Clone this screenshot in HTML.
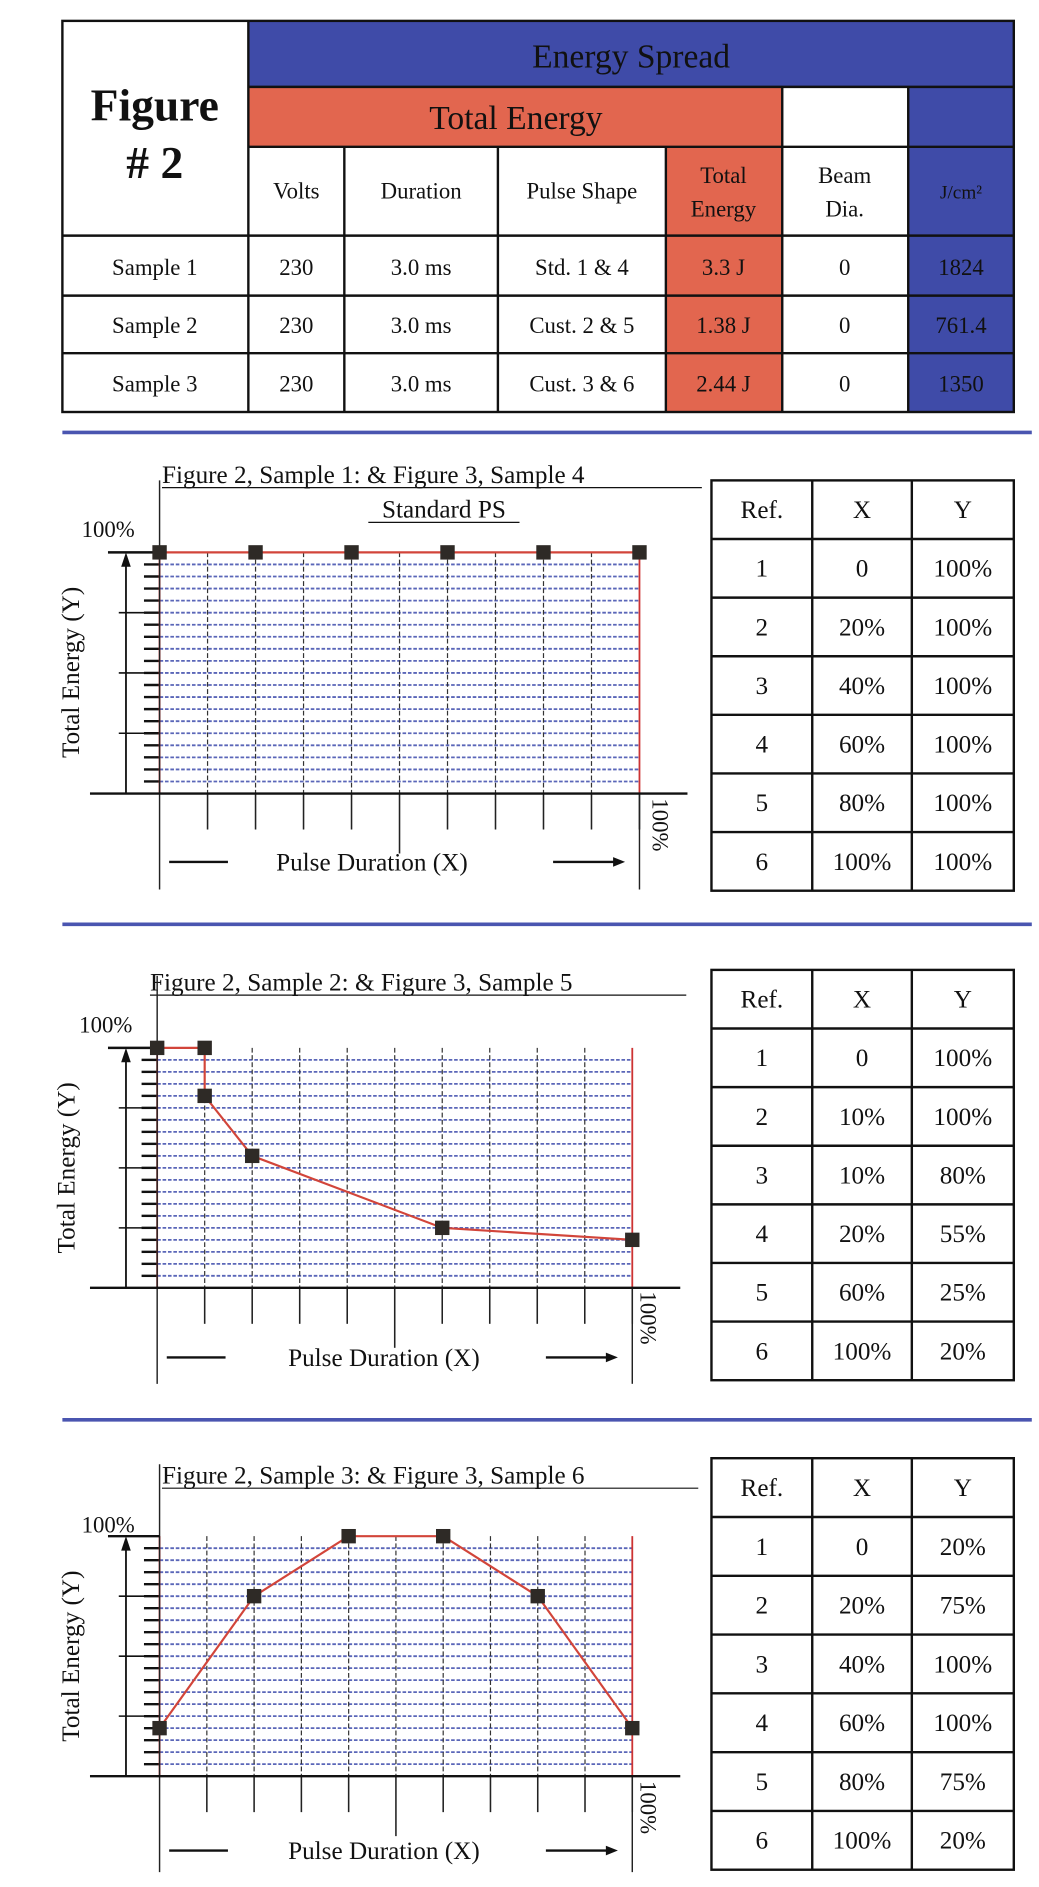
<!DOCTYPE html>
<html><head><meta charset="utf-8"><style>
html,body{margin:0;padding:0;background:#fff}
svg{display:block}
text{font-family:"Liberation Serif",serif;fill:#111}
</style></head><body>
<svg id="s" width="1039" height="1887" viewBox="0 0 866 1572" xmlns="http://www.w3.org/2000/svg">
<rect x="207" y="17" width="638" height="55" fill="#3f4ba8"/>
<rect x="207" y="72" width="445" height="50" fill="#e2664f"/>
<rect x="757" y="72" width="88" height="271" fill="#3f4ba8"/>
<rect x="555" y="122" width="97" height="221" fill="#e2664f"/>
<g stroke="#111" stroke-width="2" fill="none">
<rect x="52" y="17" width="793" height="326"/>
<line x1="207" y1="17" x2="207" y2="343"/>
<line x1="207" y1="72" x2="845" y2="72"/>
<line x1="207" y1="122" x2="845" y2="122"/>
<line x1="652" y1="72" x2="652" y2="343"/>
<line x1="757" y1="72" x2="757" y2="343"/>
<line x1="287" y1="122" x2="287" y2="343"/>
<line x1="415" y1="122" x2="415" y2="343"/>
<line x1="555" y1="122" x2="555" y2="343"/>
<line x1="52" y1="196" x2="845" y2="196"/>
<line x1="52" y1="246" x2="845" y2="246"/>
<line x1="52" y1="294" x2="845" y2="294"/>
</g>
<text x="129" y="100" font-size="38" font-weight="bold" text-anchor="middle">Figure</text>
<text x="129" y="148" font-size="38" font-weight="bold" text-anchor="middle"># 2</text>
<text x="526" y="56" font-size="28" text-anchor="middle">Energy Spread</text>
<text x="430" y="107" font-size="28" text-anchor="middle">Total Energy</text>
<g font-size="19" text-anchor="middle">
<text x="247" y="165">Volts</text><text x="351" y="165">Duration</text><text x="485" y="165">Pulse Shape</text>
<text x="603" y="152">Total</text><text x="603" y="180">Energy</text>
<text x="704" y="152">Beam</text><text x="704" y="180">Dia.</text>
<text x="801" y="165" font-size="16">J/cm²</text>
<text x="129" y="229">Sample 1</text><text x="247" y="229">230</text><text x="351" y="229">3.0 ms</text><text x="485" y="229">Std. 1 &amp; 4</text><text x="603" y="229">3.3 J</text><text x="704" y="229">0</text><text x="801" y="229">1824</text>
<text x="129" y="277">Sample 2</text><text x="247" y="277">230</text><text x="351" y="277">3.0 ms</text><text x="485" y="277">Cust. 2 &amp; 5</text><text x="603" y="277">1.38 J</text><text x="704" y="277">0</text><text x="801" y="277">761.4</text>
<text x="129" y="326">Sample 3</text><text x="247" y="326">230</text><text x="351" y="326">3.0 ms</text><text x="485" y="326">Cust. 3 &amp; 6</text><text x="603" y="326">2.44 J</text><text x="704" y="326">0</text><text x="801" y="326">1350</text>
</g>
<g stroke="#4a55b0" stroke-width="3">
<line x1="52" y1="360" x2="860" y2="360"/>
<line x1="52" y1="770" x2="860" y2="770"/>
<line x1="52" y1="1183" x2="860" y2="1183"/>
</g>
<g font-size="21">
<text x="135" y="402">Figure 2, Sample 1: &amp; Figure 3, Sample 4</text>
<line x1="135" y1="406" x2="585" y2="406" stroke="#111"/>
<text x="370" y="431" text-anchor="middle">Standard PS</text>
<line x1="307" y1="435" x2="433" y2="435" stroke="#111"/>
<text x="125" y="825">Figure 2, Sample 2: &amp; Figure 3, Sample 5</text>
<line x1="125" y1="829" x2="572" y2="829" stroke="#111"/>
<text x="135" y="1236">Figure 2, Sample 3: &amp; Figure 3, Sample 6</text>
<line x1="135" y1="1240" x2="582" y2="1240" stroke="#111"/>
</g>
<g font-size="19">
<text x="68" y="447">100%</text><text x="66" y="860">100%</text><text x="68" y="1277">100%</text>
<text transform="translate(66,560) rotate(-90)" text-anchor="middle" font-size="21">Total Energy (Y)</text>
<text transform="translate(62,973) rotate(-90)" text-anchor="middle" font-size="21">Total Energy (Y)</text>
<text transform="translate(66,1380) rotate(-90)" text-anchor="middle" font-size="21">Total Energy (Y)</text>
<text transform="translate(544,665) rotate(90)" font-size="19">100%</text>
<text transform="translate(534,1076) rotate(90)" font-size="19">100%</text>
<text transform="translate(534,1484) rotate(90)" font-size="19">100%</text>
<text x="310" y="725" text-anchor="middle" font-size="21">Pulse Duration (X)</text>
<text x="320" y="1138" text-anchor="middle" font-size="21">Pulse Duration (X)</text>
<text x="320" y="1549" text-anchor="middle" font-size="21">Pulse Duration (X)</text>
</g>
<g id="charts"></g>
</svg>
<script>
var NS="http://www.w3.org/2000/svg",G=document.getElementById("charts");
function el(t,a){var e=document.createElementNS(NS,t);for(var k in a)e.setAttribute(k,a[k]);G.appendChild(e);return e;}
function line(x1,y1,x2,y2,c,w,d){var o={x1:x1,y1:y1,x2:x2,y2:y2,stroke:c||"#111","stroke-width":w||1.3};if(d)o["stroke-dasharray"]=d;el("line",o);}
function chart(L,R,T,B,pts,axX,lblY,tbY,tbX,tbYv){
 var W=R-L,H=B-T;
 for(var i=1;i<20;i++){var y=T+H*i/20;line(L,y,R,y,"#5a66b8",1.5,"3 1.5");line(L-13,y,L,y,"#111",2);}
 [5,10,15].forEach(function(i){var y=T+H*i/20;line(axX-6,y,L,y,"#111",1.3);});
 for(var j=1;j<=10;j++){var x=L+W*j/10;if(j<10)line(x,T,x,B,"#333",1,"4 2");line(x,B,x,j==5?B+50:B+30,"#222",1.3);}
 line(L,T,L,B,"#c33",1.5);line(R,T,R,B,"#c33",1.5);
 line(L,T-60,L,B+80,"#222",1.2);line(R,B,R,B+80,"#222",1.2);
 line(axX-15,T,L,T,"#111",2);line(axX-30,B,R+40,B,"#111",2);
 line(axX,B,axX,T+6,"#111",1.5);el("polygon",{points:(axX-4)+","+(T+12)+" "+(axX+4)+","+(T+12)+" "+axX+","+T,fill:"#111"});
 line(L+8,lblY,L+57,lblY,"#111",2);line(R-72,lblY,R-20,lblY,"#111",2);
 el("polygon",{points:(R-22)+","+(lblY-4)+" "+(R-22)+","+(lblY+4)+" "+(R-12)+","+lblY,fill:"#111"});
 var p=pts.map(function(q){return (L+W*q[0]/100)+","+(B-H*q[1]/100);}).join(" ");
 el("polyline",{points:p,fill:"none",stroke:"#d2453a","stroke-width":1.8});
 pts.forEach(function(q){el("rect",{x:L+W*q[0]/100-6,y:B-H*q[1]/100-6,width:12,height:12,fill:"#2e2a26"});});
 var cx=[593,677,760,845],rh=(tbYv-tbY)/7;
 el("rect",{x:593,y:tbY,width:252,height:tbYv-tbY,fill:"none",stroke:"#111","stroke-width":2});
 line(677,tbY,677,tbYv,"#111",2);line(760,tbY,760,tbYv,"#111",2);
 for(var r=1;r<7;r++)line(593,tbY+rh*r,845,tbY+rh*r,"#111",2);
 var hd=["Ref.","X","Y"];
 for(var r=0;r<7;r++){var vals=r==0?hd:[String(r),tbX[r-1],pts[r-1][1]+"%"];
  for(var c=0;c<3;c++){var t=el("text",{x:(cx[c]+cx[c+1])/2,y:tbY+rh*r+rh/2+7,"text-anchor":"middle","font-size":21});t.textContent=vals[c];}}
}
var xs=["0","20%","40%","60%","80%","100%"];
chart(133,533,460,661,[[0,100],[20,100],[40,100],[60,100],[80,100],[100,100]],105,718,400,xs,742);
chart(131,527,873,1073,[[0,100],[10,100],[10,80],[20,55],[60,25],[100,20]],105,1131,808,["0","10%","10%","20%","60%","100%"],1150);
chart(133,527,1280,1480,[[0,20],[20,75],[40,100],[60,100],[80,75],[100,20]],105,1542,1215,xs,1558);
</script>
</body></html>
